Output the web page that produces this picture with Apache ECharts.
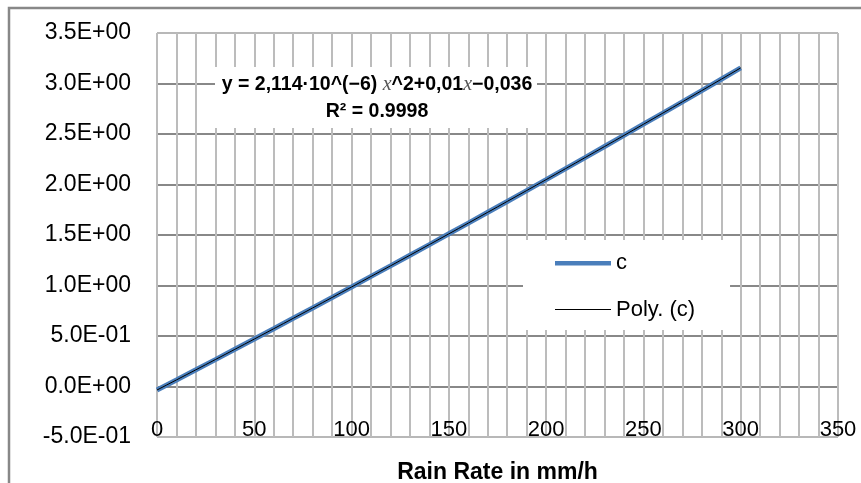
<!DOCTYPE html>
<html>
<head>
<meta charset="utf-8">
<script src="https://cdn.jsdelivr.net/npm/echarts@6/dist/echarts.min.js"></script>
<style>
  html, body { margin: 0; padding: 0; background: #fff; }
  #chart { width: 861px; height: 483px; }
</style>
</head>
<body>
<div id="chart"></div>
<script>
// Rain rate (mm/h) and coefficient c
const rainRate = [0, 10, 20, 30, 40, 50, 60, 70, 80, 90, 100, 110, 120, 130, 140, 150,
                  160, 170, 180, 190, 200, 210, 220, 230, 240, 250, 260, 270, 280, 290, 300];
const cValues = [-0.034, 0.065, 0.165, 0.266, 0.368, 0.470, 0.572, 0.675, 0.778, 0.881,
                 0.985, 1.090, 1.194, 1.300, 1.405, 1.512, 1.618, 1.725, 1.832, 1.940,
                 2.048, 2.157, 2.266, 2.376, 2.486, 2.597, 2.707, 2.818, 2.930, 3.042, 3.154];
const seriesNames = ['c', 'Poly. (c)'];
const equationText = ['y = 2,114\u00b710^(\u22126) ', 'x', '^2+0,01', 'x', '\u22120,036'];
const r2Text = 'R\u00b2 = 0.9998';
const xAxisTitle = 'Rain Rate in mm/h';

// Quadratic least-squares trendline through the c data
function quadFit(xs, ys) {
  let s = [0, 0, 0, 0, 0], t = [0, 0, 0];
  for (let i = 0; i < xs.length; i++) {
    const x = xs[i], y = ys[i];
    let p = 1;
    for (let k = 0; k < 5; k++) { s[k] += p; p *= x; }
    t[0] += y; t[1] += y * x; t[2] += y * x * x;
  }
  const A = [[s[0], s[1], s[2], t[0]], [s[1], s[2], s[3], t[1]], [s[2], s[3], s[4], t[2]]];
  for (let i = 0; i < 3; i++) {
    for (let j = i + 1; j < 3; j++) {
      const f = A[j][i] / A[i][i];
      for (let k = i; k < 4; k++) A[j][k] -= f * A[i][k];
    }
  }
  const c = [0, 0, 0];
  for (let i = 2; i >= 0; i--) {
    let v = A[i][3];
    for (let k = i + 1; k < 3; k++) v -= A[i][k] * c[k];
    c[i] = v / A[i][i];
  }
  return c; // [a0, a1, a2]
}
const coef = quadFit(rainRate, cValues);
const trendData = [];
for (let x = rainRate[0]; x <= rainRate[rainRate.length - 1]; x += 5) {
  trendData.push([x, coef[0] + coef[1] * x + coef[2] * x * x]);
}
const cData = rainRate.map((x, i) => [x, cValues[i]]);

// Scientific labels like 3.5E+00
function sci(v) {
  if (Math.abs(v) < 1e-12) return '0.0E+00';
  let e = Math.floor(Math.log10(Math.abs(v)) + 1e-12);
  let ms = (v / Math.pow(10, e)).toFixed(1);
  if (Math.abs(parseFloat(ms)) >= 10) { e += 1; ms = (v / Math.pow(10, e)).toFixed(1); }
  return ms + 'E' + (e < 0 ? '-' : '+') + String(Math.abs(e)).padStart(2, '0');
}

const FONT = 'Liberation Sans';
const hColors = ['#b8b8b8', '#888888', '#888888', '#888888', '#888888', '#888888', '#888888', '#888888', '#b8b8b8'];
// legend swatches: a bar inside a 56x22 box (corner dots keep the box size)
const thickIcon = 'path://M0,0h0.01v0.01h-0.01zM0,9h56v4.5h-56zM55.99,21.99h0.01v0.01h-0.01z';
const thinIcon = 'path://M0,0h0.01v0.01h-0.01zM0,10h56v1h-56zM55.99,21.99h0.01v0.01h-0.01z';

const chart = echarts.init(document.getElementById('chart'), null, { renderer: 'canvas' });
chart.setOption({
  animation: false,
  backgroundColor: '#fff',
  grid: { left: 157, right: 23, top: 33, bottom: 46, containLabel: false, outerBoundsMode: 'none' },
  xAxis: {
    type: 'value', min: 0, max: 350, interval: 50,
    name: xAxisTitle, nameLocation: 'middle', nameGap: 24,
    nameTextStyle: { fontFamily: FONT, fontWeight: 'bold', fontSize: 23, color: '#000' },
    axisLine: { show: false }, axisTick: { show: false },
    axisLabel: { inside: true, margin: 7, verticalAlign: 'middle', fontFamily: FONT, fontSize: 22, color: '#000' },
    splitLine: { show: true, lineStyle: { color: '#bcbcbc', width: 2 } },
    minorTick: { show: false, splitNumber: 5 },
    minorSplitLine: { show: true, lineStyle: { color: '#bcbcbc', width: 2 } }
  },
  yAxis: {
    type: 'value', min: -0.5, max: 3.5, interval: 0.5,
    axisLine: { show: false }, axisTick: { show: false },
    axisLabel: { margin: 26, fontFamily: FONT, fontSize: 23, color: '#000', formatter: sci },
    splitLine: { show: true, lineStyle: { color: hColors, width: 2 } }
  },
  legend: {
    data: [
      { name: seriesNames[0], icon: thickIcon, itemStyle: { color: '#4a7ebb', borderWidth: 0 } },
      { name: seriesNames[1], icon: thinIcon, itemStyle: { color: '#000', borderWidth: 0 } }
    ],
    orient: 'vertical',
    left: 523, top: 240,
    padding: [12, 35, 9, 32],
    itemWidth: 56, itemHeight: 22, itemGap: 25,
    backgroundColor: '#fff',
    textStyle: { fontFamily: FONT, fontSize: 22, color: '#000' }
  },
  graphic: [
    {
      type: 'rect', shape: { x: 215, y: 67, width: 322, height: 61 },
      style: { fill: '#fff' }, z: 50, silent: true
    },
    {
      type: 'text', x: 377, y: 85, z: 51,
      style: {
        text: '{b|' + equationText[0] + '}{i|' + equationText[1] + '}{b|' + equationText[2] + '}{i|' + equationText[3] + '}{b|' + equationText[4] + '}',
        align: 'center', verticalAlign: 'middle',
        rich: {
          b: { fontFamily: FONT, fontWeight: 'bold', fontSize: 19.5, fill: '#000' },
          i: { fontFamily: 'Liberation Serif', fontStyle: 'italic', fontSize: 20, fill: '#555' }
        }
      }
    },
    {
      type: 'text', x: 377, y: 112, z: 51,
      style: {
        text: r2Text, align: 'center', verticalAlign: 'middle',
        fontFamily: FONT, fontWeight: 'bold', fontSize: 19.5, fill: '#000'
      }
    },
    {
      type: 'rect', shape: { x: 9, y: 8, width: 900, height: 520 },
      style: { fill: 'none', stroke: '#888', lineWidth: 2.5 }, z: 60, silent: true
    }
  ],
  series: [
    {
      name: seriesNames[0], type: 'line', data: cData,
      symbol: 'none', showSymbol: false, smooth: false,
      color: '#4a7ebb',
      lineStyle: { color: '#4a7ebb', width: 5 }, z: 2
    },
    {
      name: seriesNames[1], type: 'line', data: trendData,
      symbol: 'none', showSymbol: false,
      color: '#000',
      lineStyle: { color: '#000', width: 1 }, z: 3
    }
  ]
});
</script>
</body>
</html>
